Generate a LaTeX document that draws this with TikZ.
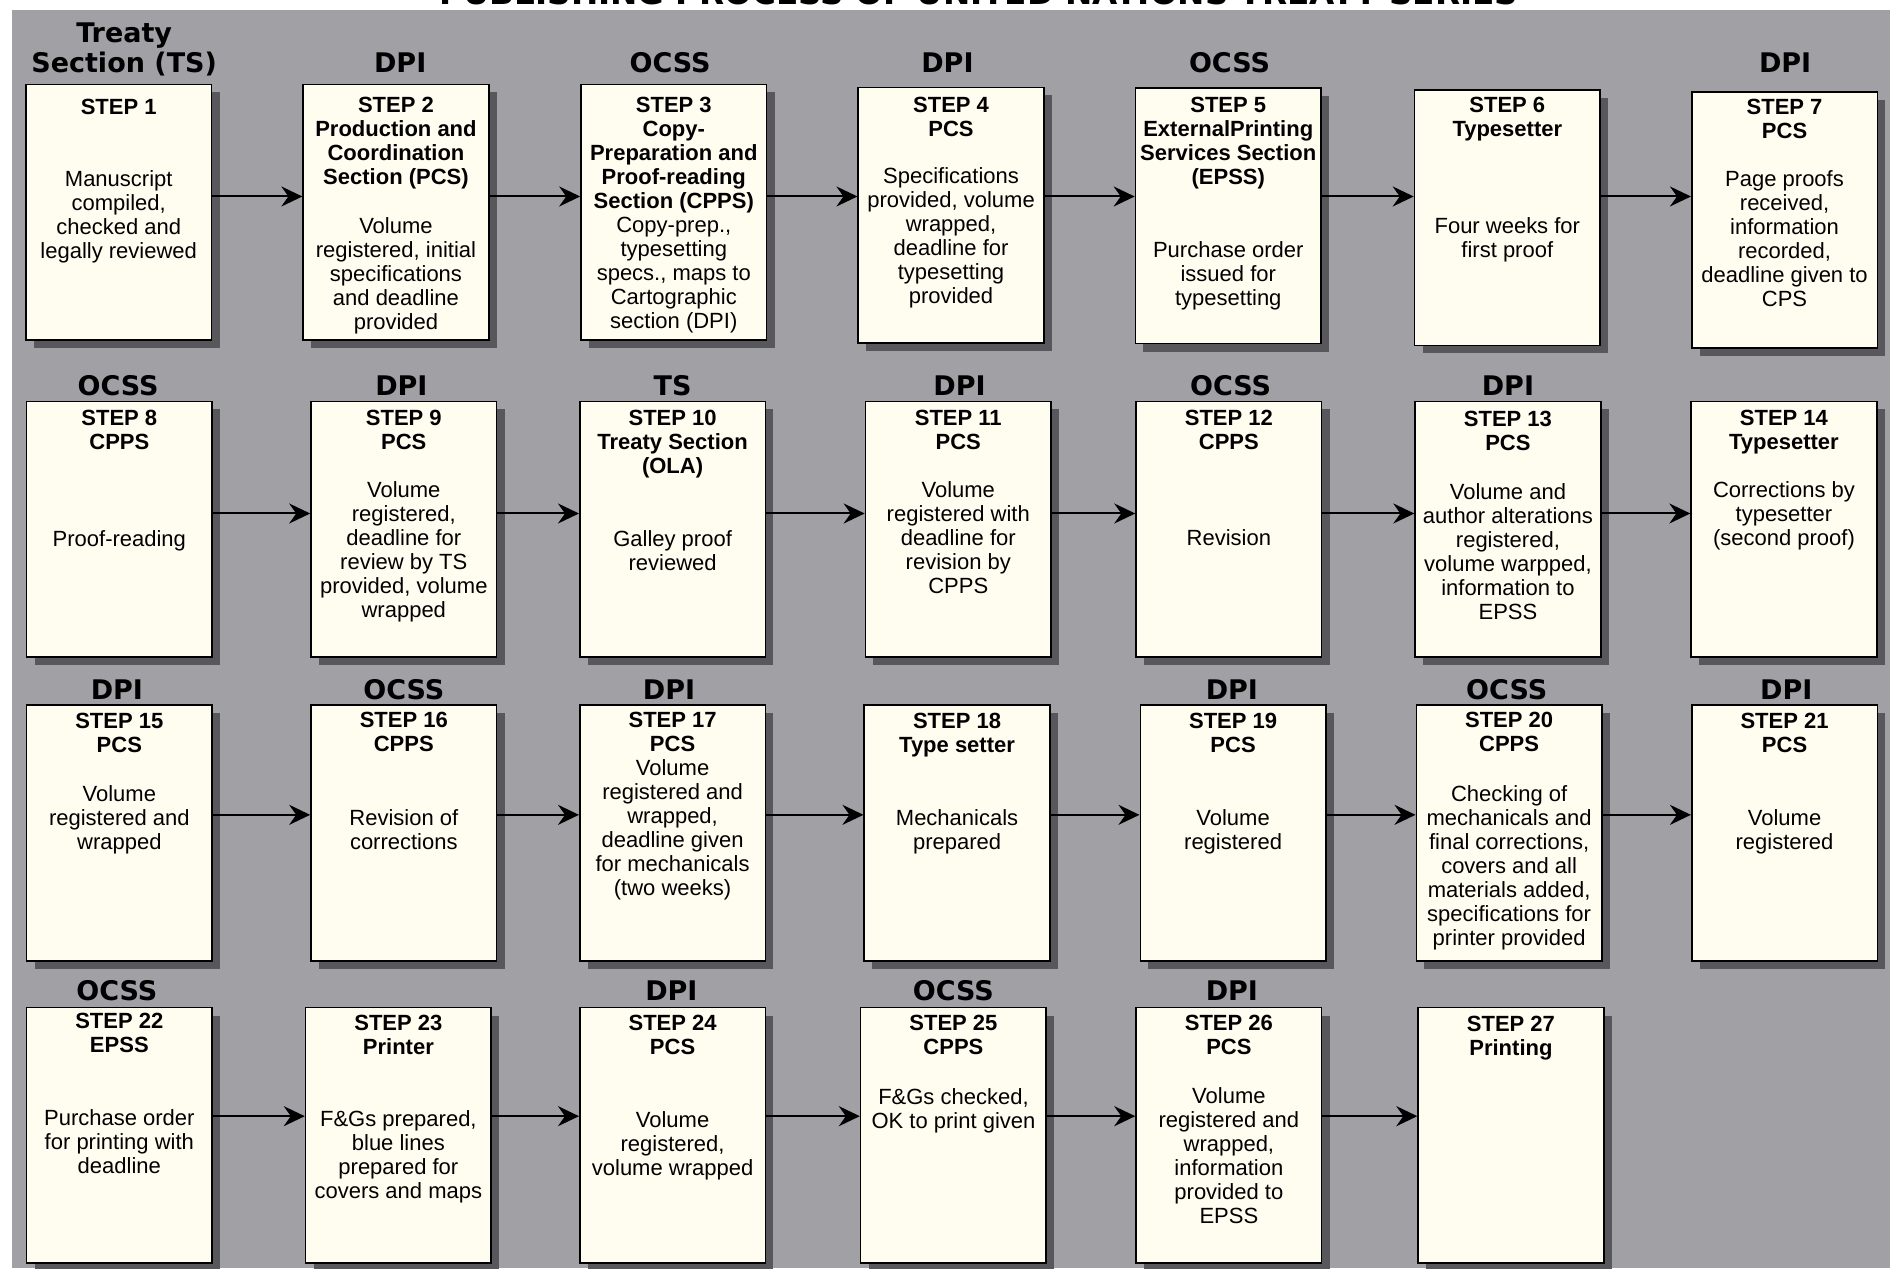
\documentclass[tikz,border=0pt]{standalone}
\usepackage{fontspec}
\setmainfont{Liberation Sans}
\newfontfamily\agfont{DejaVu Sans}
\usetikzlibrary{shadows,arrows.meta}
\definecolor{bggray}{RGB}{161,160,165}
\definecolor{boxfill}{RGB}{255,253,240}
\definecolor{shadowc}{RGB}{88,88,92}
\newcommand\stepbox[7]{%
  \node[boxst] (#1) at (#2,#3) {};
  \node[hdrst] (#1h) at (#2,#5-7) {\rule{0pt}{8pt}#4};
  \node[bodyst] (#1b) at (#2,#7-7) {\rule{0pt}{8pt}#6};
}
\newcommand\stepboxh[5]{%
  \node[boxst] (#1) at (#2,#3) {};
  \node[hdrst] (#1h) at (#2,#5-7) {\rule{0pt}{8pt}#4};
}
\begin{document}
\begin{tikzpicture}[x=0.6027pt,y=-0.6027pt,
 boxst/.style={draw=black,line width=0.8pt,fill=boxfill,minimum width=92.8pt,minimum height=127.8pt,inner sep=0pt,
   drop shadow={shadow xshift=4pt,shadow yshift=-4pt,fill=shadowc,opacity=1}},
 hdrst/.style={inner sep=0pt,anchor=north,align=center,font=\bfseries\fontsize{11}{12}\selectfont},
 bodyst/.style={inner sep=0pt,anchor=north,align=center,font=\fontsize{11}{12}\selectfont},
 agst/.style={inner sep=0pt,anchor=base,font=\agfont\bfseries\fontsize{13.5}{16}\selectfont},
 arr/.style={line width=1pt,-{Stealth[length=10.5pt,width=10pt,inset=3.5pt]}}]
\useasboundingbox (0,0) rectangle (1568,1052);
\fill[white] (0,0) rectangle (1568,1052);
\fill[bggray] (10,8) rectangle (1568,1052);
\node[inner sep=0pt,anchor=base,font=\agfont\bfseries\fontsize{16.3}{18}\selectfont] (title) at (812,4) {PUBLISHING PROCESS OF UNITED NATIONS TREATY SERIES};

% row 1
\stepbox{b1}{98.5}{176}{STEP 1}{88}{Manuscript\\compiled,\\checked and\\legally reviewed}{148}
\stepbox{b2}{328.5}{176}{STEP 2\\Production and\\Coordination\\Section (PCS)}{87}{Volume\\registered, initial\\specifications\\and deadline\\provided}{187}
\stepbox{b3}{559}{176}{STEP 3\\Copy-\\Preparation and\\Proof-reading\\Section (CPPS)}{87}{Copy-prep.,\\typesetting\\specs., maps to\\Cartographic\\section (DPI)}{186}
\stepbox{b4}{789}{178.5}{STEP 4\\PCS}{87}{Specifications\\provided, volume\\wrapped,\\deadline for\\typesetting\\provided}{146}
\stepbox{b5}{1019}{179}{STEP 5\\ExternalPrinting\\Services Section\\(EPSS)}{87}{Purchase order\\issued for\\typesetting}{207}
\stepbox{b6}{1250.5}{180.5}{STEP 6\\Typesetter}{87}{Four weeks for\\first proof}{187}
\stepbox{b7}{1480.5}{182.5}{STEP 7\\PCS}{88}{Page proofs\\received,\\information\\recorded,\\deadline given to\\CPS}{148}
% row 2
\stepbox{b8}{99}{439}{STEP 8\\CPPS}{346}{Proof-reading}{447}
\stepbox{b9}{335}{439}{STEP 9\\PCS}{346}{Volume\\registered,\\deadline for\\review by TS\\provided, volume\\wrapped}{406}
\stepbox{b10}{558}{439}{STEP 10\\Treaty Section\\(OLA)}{346}{Galley proof\\reviewed}{447}
\stepbox{b11}{795}{439}{STEP 11\\PCS}{346}{Volume\\registered with\\deadline for\\revision by\\CPPS}{406}
\stepbox{b12}{1019.5}{439}{STEP 12\\CPPS}{346}{Revision}{446}
\stepbox{b13}{1251}{439}{STEP 13\\PCS}{347}{Volume and\\author alterations\\registered,\\volume warpped,\\information to\\EPSS}{408}
\stepbox{b14}{1480}{439}{STEP 14\\Typesetter}{346}{Corrections by\\typesetter\\(second proof)}{406}
% row 3
\stepbox{b15}{99}{691}{STEP 15\\PCS}{598}{Volume\\registered and\\wrapped}{658}
\stepbox{b16}{335}{691}{STEP 16\\CPPS}{597}{Revision of\\corrections}{678}
\stepbox{b17}{558}{691}{STEP 17\\PCS}{597}{Volume\\registered and\\wrapped,\\deadline given\\for mechanicals\\(two weeks)}{637}
\stepbox{b18}{794}{691}{STEP 18\\Type setter}{598}{Mechanicals\\prepared}{678}
\stepbox{b19}{1023}{691}{STEP 19\\PCS}{598}{Volume\\registered}{678}
\stepbox{b20}{1252}{691}{STEP 20\\CPPS}{597}{Checking of\\mechanicals and\\final corrections,\\covers and all\\materials added,\\specifications for\\printer provided}{658}
\stepbox{b21}{1480.5}{691}{STEP 21\\PCS}{598}{Volume\\registered}{678}
% row 4
\stepbox{b22}{99}{942}{STEP 22\\EPSS}{847}{Purchase order\\for printing with\\deadline}{927}
\stepbox{b23}{330.5}{942}{STEP 23\\Printer}{848}{F\&Gs prepared,\\blue lines\\prepared for\\covers and maps}{928}
\stepbox{b24}{558}{942}{STEP 24\\PCS}{848}{Volume\\registered,\\volume wrapped}{929}
\stepbox{b25}{791}{942}{STEP 25\\CPPS}{848}{F\&Gs checked,\\OK to print given}{910}
\stepbox{b26}{1019.5}{942}{STEP 26\\PCS}{848}{Volume\\registered and\\wrapped,\\information\\provided to\\EPSS}{909}
\stepboxh{b27}{1253.5}{942}{STEP 27\\Printing}{849}

% agency labels
\node[agst] (a1a) at (103,35) {Treaty};
\node[agst] (a1b) at (103,60) {Section (TS)};
\node[agst] (a2) at (332,60) {DPI};
\node[agst] (a3) at (556,60) {OCSS};
\node[agst] (a4) at (786,60) {DPI};
\node[agst] (a5) at (1020,60) {OCSS};
\node[agst] (a7) at (1481,60) {DPI};
\node[agst] (a8) at (98,328) {OCSS};
\node[agst] (a9) at (333,328) {DPI};
\node[agst] (a10) at (558,328) {TS};
\node[agst] (a11) at (796,328) {DPI};
\node[agst] (a12) at (1021,328) {OCSS};
\node[agst] (a13) at (1251,328) {DPI};
\node[agst] (a15) at (97,580) {DPI};
\node[agst] (a16) at (335,580) {OCSS};
\node[agst] (a17) at (555,580) {DPI};
\node[agst] (a19) at (1022,580) {DPI};
\node[agst] (a20) at (1250,580) {OCSS};
\node[agst] (a21) at (1482,580) {DPI};
\node[agst] (a22) at (97,830) {OCSS};
\node[agst] (a24) at (557,830) {DPI};
\node[agst] (a25) at (791,830) {OCSS};
\node[agst] (a26) at (1022,830) {DPI};

% arrows
\coordinate (r1) at (0,163);
\coordinate (r2) at (0,426);
\coordinate (r3) at (0,676);
\coordinate (r4) at (0,926);
\foreach \a/\b/\r in {b1/b2/r1,b2/b3/r1,b3/b4/r1,b4/b5/r1,b5/b6/r1,b6/b7/r1,
  b8/b9/r2,b9/b10/r2,b10/b11/r2,b11/b12/r2,b12/b13/r2,b13/b14/r2,
  b15/b16/r3,b16/b17/r3,b17/b18/r3,b18/b19/r3,b19/b20/r3,b20/b21/r3,
  b22/b23/r4,b23/b24/r4,b24/b25/r4,b25/b26/r4,b26/b27/r4}
  \draw[arr] (\a.east |- \r) -- (\b.west |- \r);
\end{tikzpicture}
\end{document}
